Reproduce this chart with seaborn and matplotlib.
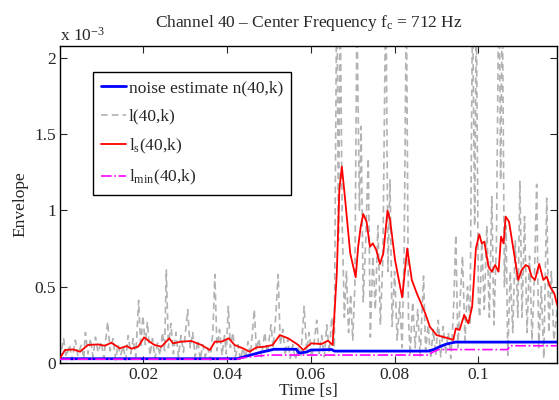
import numpy as np
import pandas as pd
import seaborn as sns
import matplotlib.pyplot as plt
from matplotlib.lines import Line2D

# values in units of 1e-3 (axis shows "x 10^-3")
t_l = [0.0001, 0.0010, 0.0016, 0.0024, 0.0030, 0.0038, 0.0044, 0.0052, 0.0058, 0.0062,
       0.0068, 0.0074, 0.0080, 0.0086, 0.0092, 0.0100, 0.0106, 0.0115, 0.0121, 0.0128,
       0.0134, 0.0140, 0.0146, 0.0152, 0.0158, 0.0164, 0.0170, 0.0176, 0.0182, 0.0189,
       0.0194, 0.0199, 0.0205, 0.0210, 0.0216, 0.0222, 0.0228, 0.0234, 0.0240, 0.0246,
       0.0251, 0.0255, 0.0260, 0.0266, 0.0272, 0.0278, 0.0284, 0.0290, 0.0296, 0.0306,
       0.0312, 0.0318, 0.0324, 0.0330, 0.0336, 0.0342, 0.0348, 0.0354, 0.0360, 0.0366,
       0.0371, 0.0376, 0.0382, 0.0388, 0.0394, 0.0398, 0.0403, 0.0408, 0.0414, 0.0420,
       0.0426, 0.0432, 0.0438, 0.0444, 0.0450, 0.0456, 0.0465, 0.0470, 0.0476, 0.0482,
       0.0490, 0.0496, 0.0505, 0.0510, 0.0516, 0.0522, 0.0527, 0.0533, 0.0539, 0.0545,
       0.0551, 0.0557, 0.0563, 0.0570, 0.0576, 0.0584, 0.0590, 0.0596, 0.0602, 0.0608,
       0.0614, 0.0620, 0.0626, 0.0632, 0.0638, 0.0644, 0.0650, 0.0656, 0.0662, 0.0666,
       0.0670, 0.0675, 0.0680, 0.0685, 0.0690, 0.0695, 0.0700, 0.0705, 0.0710, 0.0716,
       0.0720, 0.0725, 0.0731, 0.0737, 0.0742, 0.0748, 0.0754, 0.0760, 0.0766, 0.0772,
       0.0779, 0.0784, 0.0789, 0.0794, 0.0800, 0.0806, 0.0812, 0.0818, 0.0823, 0.0828,
       0.0833, 0.0837, 0.0843, 0.0849, 0.0855, 0.0861, 0.0869, 0.0874, 0.0880, 0.0886,
       0.0892, 0.0898, 0.0904, 0.0910, 0.0916, 0.0922, 0.0928, 0.0934, 0.0940, 0.0946,
       0.0951, 0.0956, 0.0962, 0.0968, 0.0974, 0.0980, 0.0986, 0.0991, 0.0995, 0.1000,
       0.1003, 0.1008, 0.1014, 0.1020, 0.1026, 0.1032, 0.1037, 0.1043, 0.1049, 0.1053,
       0.1057, 0.1062, 0.1066, 0.1070, 0.1076, 0.1082, 0.1088, 0.1094, 0.1099, 0.1104,
       0.1110, 0.1116, 0.1122, 0.1128, 0.1134, 0.1139, 0.1144, 0.1150, 0.1156, 0.1163,
       0.1168, 0.1174, 0.1180, 0.1188]
l_raw = [0.02, 0.16, 0.04, 0.12, 0.02, 0.15, 0.05, 0.12, 0.03, 0.20,
         0.06, 0.16, 0.04, 0.17, 0.07, 0.14, 0.03, 0.27, 0.08, 0.16,
         0.02, 0.12, 0.05, 0.11, 0.02, 0.18, 0.06, 0.16, 0.04, 0.41,
         0.10, 0.31, 0.12, 0.27, 0.05, 0.16, 0.03, 0.13, 0.05, 0.20,
         0.08, 0.61, 0.10, 0.26, 0.06, 0.20, 0.04, 0.18, 0.07, 0.35,
         0.10, 0.20, 0.04, 0.15, 0.02, 0.12, 0.04, 0.10, 0.02, 0.20,
         0.58, 0.08, 0.22, 0.05, 0.18, 0.06, 0.37, 0.10, 0.20, 0.04,
         0.12, 0.02, 0.10, 0.03, 0.14, 0.05, 0.35, 0.08, 0.16, 0.04,
         0.20, 0.06, 0.25, 0.10, 0.30, 0.58, 0.12, 0.22, 0.05, 0.16,
         0.03, 0.12, 0.02, 0.10, 0.04, 0.37, 0.08, 0.20, 0.03, 0.14,
         0.28, 0.06, 0.18, 0.04, 0.25, 0.07, 0.30, 0.10, 2.60, 0.80,
         2.40, 0.90, 0.30, 0.60, 0.20, 0.45, 0.15, 0.50, 2.30, 1.00,
         1.55, 0.40, 0.80, 1.34, 0.17, 0.70, 0.35, 0.90, 0.25, 0.70,
         2.50, 0.60, 1.20, 0.24, 0.60, 0.15, 0.40, 0.10, 0.80, 2.40,
         0.30, 0.05, 0.40, 0.10, 0.35, 0.04, 0.57, 0.08, 0.25, 0.03,
         0.22, 0.05, 0.28, 0.04, 0.24, 0.06, 0.20, 0.03, 0.30, 0.84,
         0.10, 0.40, 0.70, 0.15, 0.50, 0.25, 2.40, 0.90, 2.30, 0.40,
         0.30, 0.80, 0.35, 0.90, 0.30, 1.09, 0.25, 0.80, 2.60, 1.20,
         2.40, 0.50, 0.90, 0.05, 0.60, 0.20, 0.80, 0.30, 1.19, 0.30,
         0.96, 0.20, 0.70, 0.15, 0.60, 1.17, 0.10, 0.50, 0.03, 1.08,
         0.20, 0.60, 0.15, 0.35]

t_s = [0.0001, 0.0013, 0.0033, 0.0049, 0.0068, 0.0092, 0.0108, 0.0124, 0.0144, 0.0160,
       0.0172, 0.0188, 0.0202, 0.0215, 0.0227, 0.0243, 0.0251, 0.0262, 0.0271, 0.0291,
       0.0315, 0.0339, 0.0359, 0.0371, 0.0387, 0.0404, 0.0418, 0.0438, 0.0454, 0.0470,
       0.0490, 0.0509, 0.0526, 0.0546, 0.0570, 0.0582, 0.0601, 0.0625, 0.0641, 0.0652,
       0.0662, 0.0668, 0.0674, 0.0682, 0.0694, 0.0707, 0.0713, 0.0719, 0.0725, 0.0733,
       0.0741, 0.0748, 0.0756, 0.0765, 0.0773, 0.0783, 0.0789, 0.0801, 0.0818, 0.0830,
       0.0841, 0.0853, 0.0873, 0.0884, 0.0900, 0.0914, 0.0928, 0.0940, 0.0946, 0.0955,
       0.0966, 0.0976, 0.0985, 0.0994, 0.1002, 0.1008, 0.1014, 0.1024, 0.1032, 0.1040,
       0.1048, 0.1054, 0.1060, 0.1065, 0.1073, 0.1085, 0.1095, 0.1103, 0.1113, 0.1120,
       0.1127, 0.1135, 0.1145, 0.1155, 0.1163, 0.1171, 0.1181, 0.1188]
l_s = [0.03, 0.085, 0.089, 0.074, 0.118, 0.122, 0.113, 0.133, 0.096, 0.111,
       0.094, 0.107, 0.168, 0.140, 0.118, 0.107, 0.129, 0.162, 0.129, 0.140,
       0.144, 0.118, 0.085, 0.140, 0.140, 0.162, 0.118, 0.096, 0.074, 0.102,
       0.107, 0.118, 0.183, 0.162, 0.118, 0.085, 0.129, 0.124, 0.146, 0.118,
       0.588, 1.134, 1.287, 1.068, 0.719, 0.562, 0.762, 0.893, 0.976, 0.926,
       0.762, 0.784, 0.741, 0.649, 0.719, 0.998, 0.940, 0.675, 0.430, 0.751,
       0.544, 0.456, 0.326, 0.238, 0.183, 0.172, 0.162, 0.151, 0.227, 0.216,
       0.315, 0.260, 0.369, 0.751, 0.843, 0.784, 0.795, 0.631, 0.598, 0.642,
       0.598, 0.828, 0.784, 0.959, 0.926, 0.719, 0.544, 0.609, 0.642, 0.631,
       0.566, 0.544, 0.649, 0.544, 0.566, 0.500, 0.456, 0.380]

t_n = [0.0001, 0.0424, 0.0440, 0.0460, 0.0480, 0.0500, 0.0512, 0.0565, 0.0572, 0.0590,
       0.0600, 0.0650, 0.0656, 0.0880, 0.0895, 0.0910, 0.0925, 0.0945, 0.1188]
n_est = [0.028, 0.028, 0.040, 0.055, 0.070, 0.082, 0.090, 0.090, 0.065, 0.072,
         0.085, 0.088, 0.078, 0.078, 0.090, 0.110, 0.125, 0.137, 0.137]

t_m = [0.0001, 0.0424, 0.0440, 0.0470, 0.0500, 0.0880, 0.0890, 0.0905, 0.1070, 0.1075, 0.1188]
l_min = [0.025, 0.025, 0.035, 0.045, 0.052, 0.052, 0.070, 0.088, 0.088, 0.113, 0.113]

sns.set_style("ticks")
plt.rcParams['font.family'] = ['Liberation Serif', 'DejaVu Serif']
plt.rcParams['mathtext.fontset'] = 'custom'
plt.rcParams['mathtext.rm'] = 'Liberation Serif'
plt.rcParams['mathtext.it'] = 'Liberation Serif'

gray = "#b2b2b2"
dash = (0, (4, 2.5))

fig = plt.figure(figsize=(5.59, 4.0), dpi=100)
ax = fig.add_axes([0.1073, 0.0925, 0.8891, 0.7925])

sns.lineplot(x=t_l, y=l_raw, ax=ax, color=gray, lw=1.2,
             linestyle=dash, sort=False, estimator=None, zorder=1)
sns.lineplot(x=t_n, y=n_est, ax=ax, color="blue", lw=2.0, sort=False, estimator=None, zorder=3)
sns.lineplot(x=t_s, y=l_s, ax=ax, color="red", lw=1.3, sort=False, estimator=None, zorder=4)
sns.lineplot(x=t_m, y=l_min, ax=ax, color="magenta", lw=1.2, linestyle="-.",
             sort=False, estimator=None, zorder=5)

ax.set_xlim(0.000125, 0.11875)
ax.set_ylim(0, 2.077)
ax.set_xticks([0.02, 0.04, 0.06, 0.08, 0.1])
ax.set_xticklabels(["0.02", "0.04", "0.06", "0.08", "0.1"])
ax.set_yticks([0, 0.5, 1, 1.5, 2])
ax.set_yticklabels(["0", "0.5", "1", "1.5", "2"])
ax.tick_params(direction="in", length=5, width=0.8, top=True, right=True,
               labelsize=12.5, pad=3)
for sp in ax.spines.values():
    sp.set_linewidth(1.0)
    sp.set_color("black")

ax.set_xlabel("Time [s]", fontsize=12.5, labelpad=0)
ax.set_ylabel("Envelope", fontsize=12.5, labelpad=4)
ax.set_title(r"Channel 40 – Center Frequency f$_\mathrm{c}$ = 712 Hz", fontsize=12.5, pad=14)
ax.text(0.0, 1.005, r"x 10$^{-3}$", transform=ax.transAxes, fontsize=12.5,
        ha="left", va="bottom")

handles = [
    Line2D([], [], color="blue", lw=2.0),
    Line2D([], [], color=gray, lw=1.2, linestyle=dash),
    Line2D([], [], color="red", lw=1.3),
    Line2D([], [], color="magenta", lw=1.2, linestyle="-."),
]
labels = ["noise estimate n(40,k)", "l(40,k)", r"l$_\mathrm{s}$(40,k)", r"l$_\mathrm{min}$(40,k)"]
leg = ax.legend(handles, labels, loc="upper left", bbox_to_anchor=(0.067, 0.917),
                fontsize=12.5, frameon=True, fancybox=False, framealpha=1,
                edgecolor="black", handlelength=1.45, handletextpad=0.15,
                borderpad=0.45, labelspacing=0.7, borderaxespad=0)
leg.get_frame().set_linewidth(1.0)

fig.savefig("out.png", dpi=100)
